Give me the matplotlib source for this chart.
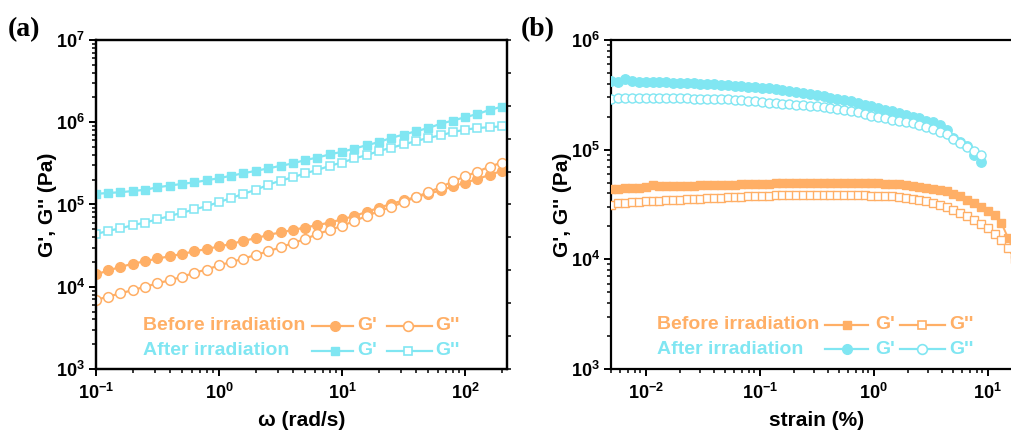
import numpy as np
import matplotlib
matplotlib.use("Agg")
import matplotlib.pyplot as plt
from matplotlib.ticker import LogLocator, NullFormatter, LogFormatterSciNotation

plt.rcParams["font.family"] = ["Liberation Sans", "DejaVu Sans"]
plt.rcParams["font.weight"] = "bold"
plt.rcParams["mathtext.fontset"] = "custom"
plt.rcParams["mathtext.bf"] = "Liberation Sans:bold"
plt.rcParams["mathtext.rm"] = "Liberation Sans:bold"
plt.rcParams["mathtext.default"] = "bf"
plt.rcParams["axes.unicode_minus"] = False

ORANGE = "#FFAF66"
CYAN = "#80E6F2"

# ---- (a) frequency sweep ----
omega = [0.1, 0.126, 0.158, 0.2, 0.251, 0.316, 0.398, 0.501, 0.631, 0.794,
         1.0, 1.26, 1.58, 2.0, 2.51, 3.16, 3.98, 5.01, 6.31, 7.94,
         10, 12.6, 15.8, 20, 25.1, 31.6, 39.8, 50.1, 63.1, 79.4,
         100, 126, 158, 200]
gp_after_a = [1.35e5, 1.38e5, 1.41e5, 1.46e5, 1.51e5, 1.62e5, 1.70e5, 1.78e5, 1.86e5, 1.97e5,
              2.09e5, 2.24e5, 2.40e5, 2.57e5, 2.75e5, 2.95e5, 3.16e5, 3.47e5, 3.72e5, 4.07e5,
              4.37e5, 4.79e5, 5.25e5, 5.75e5, 6.46e5, 7.08e5, 7.76e5, 8.51e5, 9.55e5, 1.05e6,
              1.15e6, 1.26e6, 1.41e6, 1.55e6]
gpp_after_a = [4.37e4, 4.79e4, 5.13e4, 5.62e4, 6.03e4, 6.61e4, 7.24e4, 7.94e4, 8.71e4, 9.55e4,
               1.07e5, 1.20e5, 1.35e5, 1.51e5, 1.74e5, 1.95e5, 2.14e5, 2.40e5, 2.63e5, 2.95e5,
               3.24e5, 3.63e5, 3.98e5, 4.47e5, 4.90e5, 5.37e5, 5.89e5, 6.46e5, 6.92e5, 7.59e5,
               8.13e5, 8.51e5, 8.71e5, 8.91e5]
gp_before_a = [1.41e4, 1.58e4, 1.74e4, 1.91e4, 2.04e4, 2.21e4, 2.34e4, 2.51e4, 2.69e4, 2.88e4,
               3.09e4, 3.31e4, 3.63e4, 3.89e4, 4.27e4, 4.57e4, 4.90e4, 5.25e4, 5.62e4, 6.03e4,
               6.61e4, 7.24e4, 8.13e4, 9.12e4, 1.02e5, 1.12e5, 1.23e5, 1.35e5, 1.48e5, 1.66e5,
               1.84e5, 2.04e5, 2.29e5, 2.57e5]
gpp_before_a = [6.92e3, 7.59e3, 8.32e3, 9.12e3, 1.00e4, 1.10e4, 1.20e4, 1.32e4, 1.48e4, 1.62e4,
                1.82e4, 2.00e4, 2.19e4, 2.45e4, 2.69e4, 3.02e4, 3.39e4, 3.80e4, 4.37e4, 4.90e4,
                5.50e4, 6.31e4, 7.24e4, 8.32e4, 9.33e4, 1.07e5, 1.23e5, 1.41e5, 1.62e5, 1.91e5,
                2.19e5, 2.51e5, 2.88e5, 3.24e5]

# ---- (b) strain sweep (moduli read as log10 Pa) ----
strain = [0.00501, 0.00575, 0.00661, 0.00759, 0.00871, 0.0100, 0.0115, 0.0132, 0.0151, 0.0174,
          0.0200, 0.0229, 0.0263, 0.0302, 0.0347, 0.0398, 0.0457, 0.0525, 0.0603, 0.0692,
          0.0794, 0.0912, 0.105, 0.120, 0.138, 0.158, 0.182, 0.209, 0.240, 0.275,
          0.316, 0.363, 0.417, 0.479, 0.550, 0.631, 0.724, 0.832, 0.955, 1.10,
          1.26, 1.45, 1.66, 1.91, 2.19, 2.51, 2.88, 3.31, 3.80, 4.37,
          5.01, 5.75, 6.61, 7.59, 8.71, 10.0, 11.5, 13.2, 15.1, 17.4]
log_gp_after_b = [5.63, 5.62, 5.64, 5.63, 5.62, 5.62, 5.62, 5.615, 5.615, 5.61,
                  5.61, 5.61, 5.605, 5.60, 5.60, 5.595, 5.59, 5.59, 5.585, 5.58,
                  5.575, 5.57, 5.565, 5.56, 5.55, 5.545, 5.535, 5.53, 5.52, 5.51,
                  5.50, 5.49, 5.475, 5.465, 5.45, 5.44, 5.425, 5.41, 5.395, 5.38,
                  5.365, 5.35, 5.335, 5.32, 5.30, 5.285, 5.265, 5.25, 5.225, 5.18,
                  5.11, 5.07, 5.03, 4.95, 4.89]
log_gpp_after_b = [5.46, 5.47, 5.475, 5.475, 5.475, 5.475, 5.475, 5.47, 5.47, 5.47,
                   5.47, 5.47, 5.465, 5.465, 5.465, 5.46, 5.46, 5.46, 5.455, 5.455,
                   5.445, 5.44, 5.435, 5.43, 5.425, 5.42, 5.415, 5.41, 5.405, 5.40,
                   5.395, 5.39, 5.38, 5.37, 5.36, 5.35, 5.34, 5.325, 5.31, 5.30,
                   5.29, 5.275, 5.26, 5.25, 5.24, 5.225, 5.21, 5.19, 5.165, 5.14,
                   5.10, 5.06, 5.025, 4.99, 4.955]
log_gp_before_b = [4.645, 4.645, 4.65, 4.655, 4.655, 4.66, 4.675, 4.67, 4.665, 4.665,
                   4.67, 4.67, 4.672, 4.674, 4.676, 4.678, 4.68, 4.68, 4.682, 4.684,
                   4.686, 4.688, 4.69, 4.69, 4.692, 4.693, 4.694, 4.695, 4.695, 4.696,
                   4.696, 4.696, 4.696, 4.696, 4.695, 4.695, 4.694, 4.694, 4.693, 4.692,
                   4.69, 4.688, 4.686, 4.68, 4.672, 4.664, 4.655, 4.645, 4.633, 4.62,
                   4.60, 4.575, 4.545, 4.515, 4.48, 4.445, 4.40, 4.33, 4.195, 4.05]
log_gpp_before_b = [4.495, 4.51, 4.515, 4.52, 4.525, 4.53, 4.533, 4.536, 4.539, 4.542,
                    4.545, 4.548, 4.551, 4.554, 4.557, 4.56, 4.563, 4.566, 4.569, 4.572,
                    4.575, 4.577, 4.579, 4.581, 4.583, 4.585, 4.586, 4.587, 4.588, 4.588,
                    4.588, 4.588, 4.588, 4.587, 4.586, 4.585, 4.584, 4.583, 4.582, 4.58,
                    4.578, 4.575, 4.57, 4.562, 4.552, 4.54, 4.528, 4.513, 4.495, 4.475,
                    4.452, 4.425, 4.395, 4.36, 4.325, 4.285, 4.235, 4.175, 4.10, 4.00]

W, H = 1011, 436
fig = plt.figure(figsize=(W / 100, H / 100), dpi=100)

LABEL_FS = 15
LEGEND_FS = 14
TICK_FS = 13


def px_axes(left, top, width, height):
    return fig.add_axes([left / W, (H - top - height) / H, width / W, height / H])


def style_log_axes(ax):
    ax.set_xscale("log")
    ax.set_yscale("log")
    for s in ax.spines.values():
        s.set_linewidth(1.6)
    for axis in (ax.xaxis, ax.yaxis):
        axis.set_major_locator(LogLocator(base=10, numticks=20))
        axis.set_minor_locator(LogLocator(base=10, subs=np.arange(2, 10), numticks=20))
        axis.set_minor_formatter(NullFormatter())
        axis.set_major_formatter(LogFormatterSciNotation())
    ax.tick_params(which="major", direction="out", length=5, width=1.4, labelsize=TICK_FS)
    ax.tick_params(which="minor", direction="out", length=3, width=1.1)
    ax.tick_params(axis="x", pad=5)
    ax.tick_params(axis="y", pad=3)


def legend_rows(ax, rows, xs):
    # rows: (y, label, colour, marker for G', marker for G'', marker size)
    tx, l1, m1, g1x, l2, m2, g2x = xs
    for y, label, col, mk1, mk2, ms in rows:
        ax.text(tx, y, label, color=col, fontsize=LEGEND_FS, fontweight="bold",
                va="center", ha="left", transform=ax.transAxes)
        ax.plot([l1[0], m1, l1[1]], [y, y, y], color=col, lw=1.6, marker=mk1, ms=ms,
                markevery=[1], mfc=col, mec=col, transform=ax.transAxes, clip_on=False)
        ax.text(g1x, y, "G'", color=col, fontsize=LEGEND_FS, fontweight="bold",
                va="center", ha="left", transform=ax.transAxes)
        ax.plot([l2[0], m2, l2[1]], [y, y, y], color=col, lw=1.6, marker=mk2, ms=ms,
                markevery=[1], mfc="white", mec=col, mew=1.2, transform=ax.transAxes,
                clip_on=False)
        ax.text(g2x, y, "G''", color=col, fontsize=LEGEND_FS, fontweight="bold",
                va="center", ha="left", transform=ax.transAxes)


# ---------------- panel (a) ----------------
ax1 = px_axes(96, 40, 411, 329)
style_log_axes(ax1)
ax1.plot(omega, gp_after_a, color=CYAN, lw=1.6, marker="s", ms=6, mfc=CYAN, mec=CYAN, zorder=3)
ax1.plot(omega, gpp_after_a, color=CYAN, lw=1.6, marker="s", ms=6, mfc="white", mec=CYAN,
         mew=1.1, zorder=4)
ax1.plot(omega, gp_before_a, color=ORANGE, lw=1.6, marker="o", ms=7, mfc=ORANGE, mec=ORANGE,
         zorder=3)
ax1.plot(omega, gpp_before_a, color=ORANGE, lw=1.6, marker="o", ms=7, mfc="white", mec=ORANGE,
         mew=1.1, zorder=4)
ax1.set_xlim(0.1, 219)
ax1.set_ylim(1e3, 1e7)
ax1.set_xlabel("ω (rad/s)", fontsize=LABEL_FS, fontweight="bold", labelpad=6)
ax1.set_ylabel("G', G'' (Pa)", fontsize=LABEL_FS, fontweight="bold", labelpad=-1)

# right-hand spine carries evenly spaced ticks
axr = ax1.twinx()
axr.set_ylim(0, 10)
axr.set_yticks(range(11))
axr.set_yticklabels([])
axr.tick_params(axis="y", direction="out", length=3, width=1.1)
for s in axr.spines.values():
    s.set_linewidth(1.6)

legend_rows(ax1,
            [(0.131, "Before irradiation", ORANGE, "o", "o", 7),
             (0.055, "After irradiation", CYAN, "s", "s", 6)],
            (0.115, (0.525, 0.626), 0.581, 0.636, (0.707, 0.817), 0.760, 0.825))

# ---------------- panel (b) ----------------
ax2 = px_axes(611, 40, 411, 329)
style_log_axes(ax2)
n_after = len(log_gp_after_b)
ax2.plot(strain, 10 ** np.array(log_gp_before_b), color=ORANGE, lw=1.4, marker="s", ms=5.8,
         mfc=ORANGE, mec=ORANGE, zorder=3)
ax2.plot(strain, 10 ** np.array(log_gpp_before_b), color=ORANGE, lw=1.4, marker="s", ms=5.6,
         mfc="white", mec=ORANGE, mew=1.0, zorder=4)
ax2.plot(strain[:n_after], 10 ** np.array(log_gp_after_b), color=CYAN, lw=1.4, marker="o",
         ms=6.8, mfc=CYAN, mec=CYAN, zorder=3)
ax2.plot(strain[:n_after], 10 ** np.array(log_gpp_after_b), color=CYAN, lw=1.4, marker="o",
         ms=6.5, mfc="white", mec=CYAN, mew=1.0, zorder=4)
ax2.set_xlim(0.00496, 20)
ax2.set_ylim(1e3, 1e6)
ax2.set_xlabel("strain (%)", fontsize=LABEL_FS, fontweight="bold", labelpad=6)
ax2.set_ylabel("G', G'' (Pa)", fontsize=LABEL_FS, fontweight="bold", labelpad=-1)

legend_rows(ax2,
            [(0.134, "Before irradiation", ORANGE, "s", "s", 6),
             (0.060, "After irradiation", CYAN, "o", "o", 7)],
            (0.111, (0.521, 0.626), 0.573, 0.642, (0.703, 0.813), 0.756, 0.823))

fig.text(8 / W, 1 - 30 / H, "(a)", fontsize=20, fontweight="bold",
         family=["Liberation Serif", "DejaVu Serif"], va="center", ha="left")
fig.text(521 / W, 1 - 30 / H, "(b)", fontsize=20, fontweight="bold",
         family=["Liberation Serif", "DejaVu Serif"], va="center", ha="left")

fig.savefig("out.png", dpi=100)
